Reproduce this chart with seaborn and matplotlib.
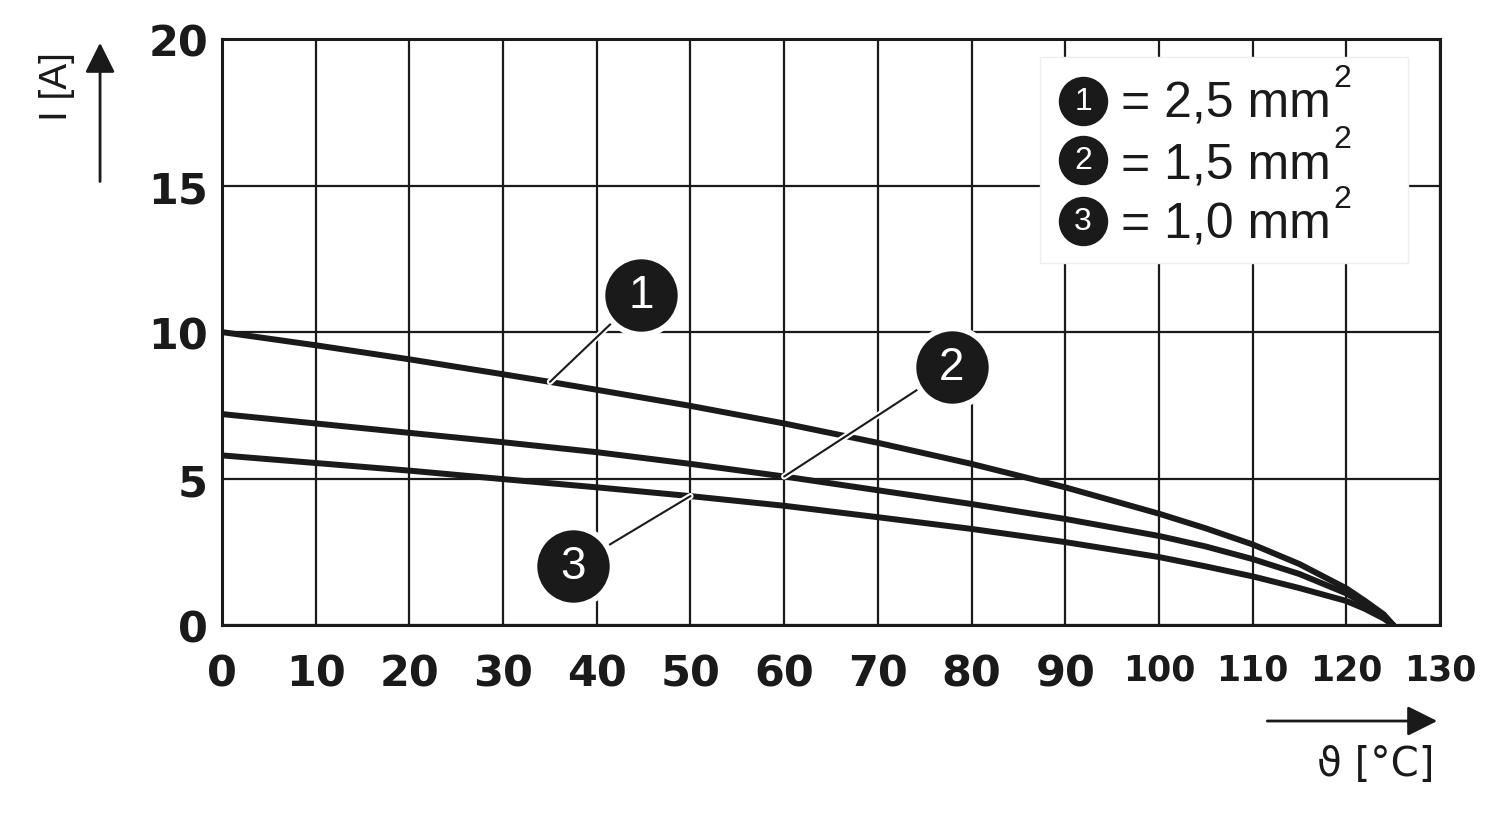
import numpy as np
import pandas as pd
import matplotlib
matplotlib.use("Agg")
import matplotlib.pyplot as plt
import matplotlib.patheffects as pe
import seaborn as sns

# temperature points (degC)
temp = [0, 10, 20, 30, 35, 40, 50, 60, 70, 80, 90, 100, 105, 110, 115, 120, 122, 124, 125]
# current (A) per wire cross-section
i_25 = [10.0, 9.55, 9.07, 8.56, 8.30, 8.03, 7.48, 6.88, 6.22, 5.50, 4.70, 3.80, 3.30, 2.75, 2.08, 1.25, 0.82, 0.36, 0.0]
i_15 = [7.20, 6.88, 6.56, 6.24, 6.07, 5.90, 5.50, 5.07, 4.60, 4.13, 3.62, 3.04, 2.68, 2.25, 1.74, 1.08, 0.70, 0.30, 0.0]
i_10 = [5.79, 5.53, 5.27, 4.98, 4.84, 4.70, 4.40, 4.07, 3.68, 3.28, 2.83, 2.32, 2.00, 1.66, 1.26, 0.82, 0.55, 0.22, 0.0]

labels = ["1", "2", "3"]
legend_text = ["= 2,5 mm", "= 1,5 mm", "= 1,0 mm"]
x_ticks = list(range(0, 131, 10))
y_ticks = [0, 5, 10, 15, 20]

df = pd.DataFrame({
    "temp": temp * 3,
    "current": i_25 + i_15 + i_10,
    "curve": ["1"] * len(temp) + ["2"] * len(temp) + ["3"] * len(temp),
})

sns.set_style("white")
plt.rcParams["font.family"] = ["Liberation Sans", "DejaVu Sans"]
ink = "#1a1a1a"

fig = plt.figure(figsize=(15, 8.2), dpi=100)
ax = fig.add_axes([0.148, 0.2366, 0.812, 0.7144])

sns.lineplot(data=df, x="temp", y="current", hue="curve",
             palette=[ink] * 3, linewidth=4.3, legend=False,
             ax=ax, zorder=3)
for ln in ax.lines:
    ln.set_solid_capstyle("round")
    ln.set_solid_joinstyle("round")

ax.set_xlim(0, 130)
ax.set_ylim(0, 20)
ax.set_xticks(x_ticks)
ax.set_yticks(y_ticks)
ax.grid(True, color=ink, linewidth=1.6)
ax.set_axisbelow(True)
for s in ax.spines.values():
    s.set_color(ink)
    s.set_linewidth(2.2)
    s.set_visible(True)
ax.tick_params(length=0)
ax.set_yticklabels([str(v) for v in y_ticks], fontsize=31, fontweight="bold",
                   family="DejaVu Sans", color=ink)
ax.tick_params(axis="y", pad=10)
ax.tick_params(axis="x", pad=20)
ax.set_xticklabels([str(v) for v in x_ticks], fontweight="bold",
                   family="DejaVu Sans", color=ink)
for lab, v in zip(ax.get_xticklabels(), x_ticks):
    lab.set_fontsize(31 if v < 100 else 25)
ax.set_xlabel("")
ax.set_ylabel("")

# legend box
ax.add_patch(plt.Rectangle((0.672, 0.618), 0.302, 0.351, transform=ax.transAxes,
                           facecolor="white", edgecolor="#eeeeee", lw=1, zorder=4))
leg_circ_y = [0.894, 0.7935, 0.6894]
leg_base_y = [0.8686, 0.7645, 0.662]
for lab, txt, cy, by in zip(labels, legend_text, leg_circ_y, leg_base_y):
    ax.scatter([0.707], [cy], s=1195, color=ink, transform=ax.transAxes,
               zorder=5, clip_on=False)
    ax.text(0.707, cy, lab, transform=ax.transAxes, color="white", fontsize=23,
            ha="center", va="center", zorder=6)
    t = ax.text(0.738, by, txt, transform=ax.transAxes, color=ink, fontsize=36,
                ha="left", va="baseline", zorder=6)
    ax.annotate("2", xy=(1.0, 0.0), xycoords=t, xytext=(2, 24),
                textcoords="offset points", fontsize=23, color=ink,
                ha="left", va="bottom", zorder=6)

# callouts: (label, anchor temp, anchor current, circle centre)
halo = [pe.Stroke(linewidth=4.5, foreground="white"), pe.Normal()]
callouts = [
    ("1", temp[4], i_25[4], (44.7, 11.26)),
    ("2", temp[7], i_15[7], (77.9, 8.8)),
    ("3", temp[6], i_10[6], (37.5, 2.0)),
]
for lab, px, py, (cx, cy) in callouts:
    ax.annotate("", xy=(px, py), xytext=(cx, cy),
                arrowprops=dict(arrowstyle="-", color=ink, lw=1.5,
                                shrinkA=0, shrinkB=0, path_effects=halo),
                zorder=6)
    ax.scatter([cx], [cy], s=3150, color=ink, edgecolor="white",
               linewidth=4, zorder=7, clip_on=False)
    ax.text(cx, cy, lab, color="white", fontsize=33, ha="center", va="center",
            zorder=8)

# axis arrows and labels
fig.patches.append(matplotlib.patches.FancyArrowPatch(
    (0.0667, 0.774), (0.0667, 0.950), transform=fig.transFigure,
    arrowstyle="-|>", mutation_scale=46, color=ink, lw=2))
fig.text(0.038, 0.894, "I [A]", rotation=90, fontsize=28, ha="center",
         va="center", color=ink)
fig.patches.append(matplotlib.patches.FancyArrowPatch(
    (0.843, 0.1195), (0.960, 0.1195), transform=fig.transFigure,
    arrowstyle="-|>", mutation_scale=46, color=ink, lw=2))
fig.text(0.917, 0.067, "ϑ [°C]", fontsize=29, ha="center", va="center",
         color=ink, family=["DejaVu Sans"])

fig.savefig("out.png", dpi=100, facecolor="white")
